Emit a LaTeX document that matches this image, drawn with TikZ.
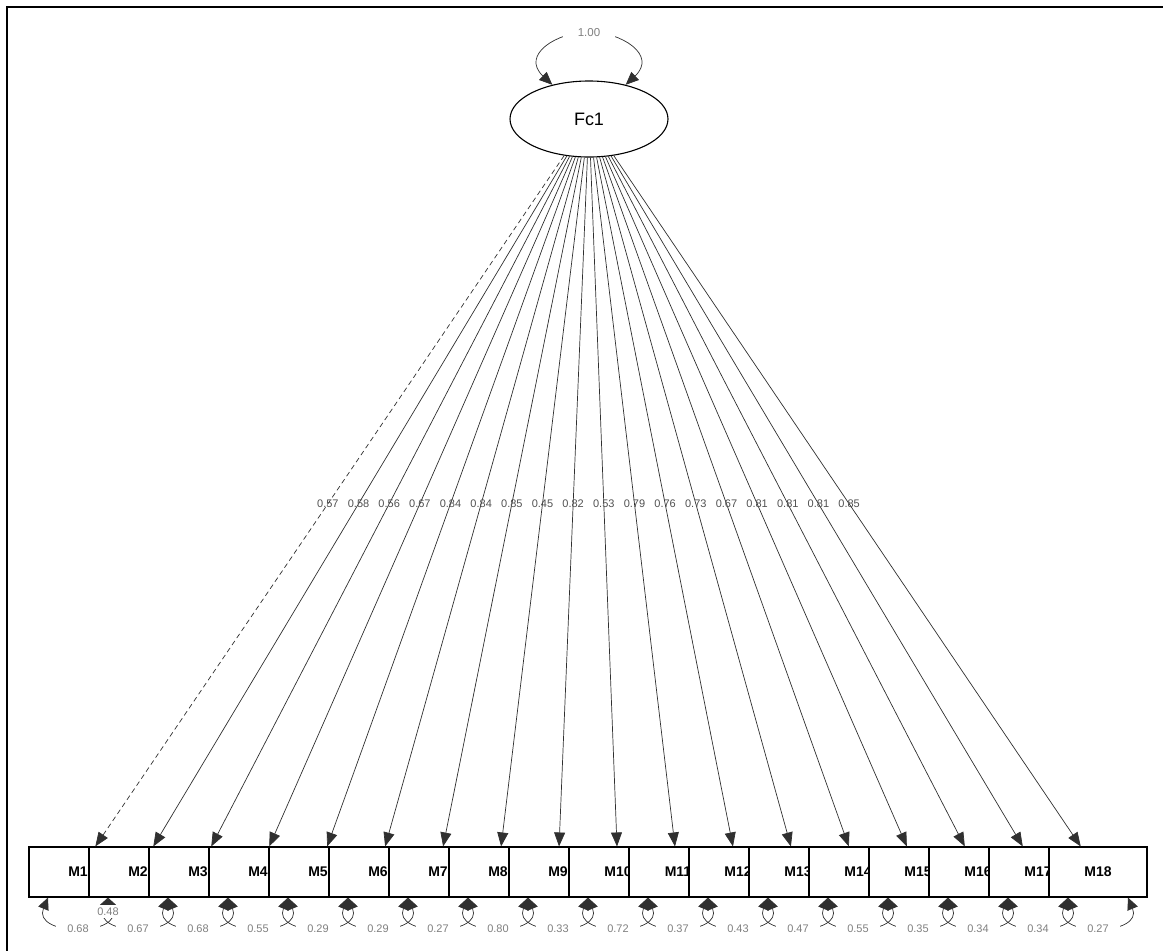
\documentclass[tikz,border=0pt]{standalone}
\usepackage{fontspec}
\setmainfont{Liberation Sans}
\usetikzlibrary{arrows.meta,shapes.geometric,calc}
\definecolor{edgegray}{HTML}{303030}
\definecolor{headgray}{HTML}{383838}
\definecolor{loadtxt}{HTML}{505050}
\definecolor{restxt}{HTML}{808080}
\begin{document}
\begin{tikzpicture}[x=1pt,y=-1pt,
  latent/.style={ellipse,draw,line width=1.1pt,minimum width=158pt,minimum height=76pt,
    inner sep=0pt,font=\fontsize{18}{18}\selectfont},
  manifest/.style={rectangle,draw,fill=white,line width=1.1pt,minimum width=98pt,
    minimum height=50pt,inner sep=0pt,font=\bfseries\fontsize{14}{14}\selectfont},
  loading/.style={draw=edgegray,line width=0.7pt,-{Triangle[length=14pt,width=11pt]}},
  solidload/.style={},
  dashedload/.style={dash pattern=on 5pt off 3.5pt},
  loadlabel/.style={inner sep=0pt,text=loadtxt,font=\fontsize{11}{11}\selectfont},
  resloop/.style={draw=edgegray,line width=0.7pt,
    {Triangle[length=12pt,width=11pt]}-{Triangle[length=12pt,width=11pt]}},
  reslabel/.style={fill=white,inner sep=0pt,minimum width=44pt,minimum height=14pt,
    text=restxt,font=\fontsize{11}{11}\selectfont},
  varloop/.style={draw=edgegray,line width=0.7pt,
    {Triangle[length=13pt,width=11pt]}-{Triangle[length=13pt,width=11pt]}},
  varlabel/.style={fill=white,inner sep=0pt,minimum width=52pt,minimum height=12pt,
    text=restxt,font=\fontsize{11.5}{11.5}\selectfont},
]
\useasboundingbox (0,0) rectangle (1163,951);

% outer frame (left and top edges)
\draw[line width=2.2pt] (7,951) -- (7,7) -- (1163,7);

% latent factor
\node[latent] (Fc1) at (589,119) {Fc1};

% variance of the factor
\draw[varloop] (Fc1.137) .. controls +(-32,-30) and +(-32,0) .. (589,32)
  .. controls +(32,0) and +(32,-30) .. (Fc1.43);
\node[varlabel] (v1) at (589,33) {1.00};

% indicators: each box drawn over the previous one
\foreach \k in {1,...,18}
  \node[manifest] (M\k) at ({78+60*(\k-1)},872) {M\k};

% factor loadings
\foreach \k/\lv/\st in {1/0.57/dashedload,2/0.58/solidload,3/0.56/solidload,
    4/0.67/solidload,5/0.84/solidload,6/0.84/solidload,7/0.85/solidload,
    8/0.45/solidload,9/0.82/solidload,10/0.53/solidload,11/0.79/solidload,
    12/0.76/solidload,13/0.73/solidload,14/0.67/solidload,15/0.81/solidload,
    16/0.81/solidload,17/0.81/solidload,18/0.85/solidload}{
  \draw[loading,\st] (Fc1) -- (M\k);
  \node[loadlabel] (l\k) at ($(Fc1.center)!0.511!(M\k.center)$) {\lv};
}

% residual variances
\foreach \k in {1,...,18}{
  \draw[resloop] ($(M\k.south)+(-30,0)$) .. controls +(-10,24) and +(-22,0) ..
    ($(M\k.south)+(0,32)$) .. controls +(22,0) and +(10,24) .. ($(M\k.south)+(30,0)$);
}
\foreach \k/\rv in {1/0.68,2/0.67,3/0.68,4/0.55,5/0.29,6/0.29,7/0.27,8/0.80,
    9/0.33,10/0.72,11/0.37,12/0.43,13/0.47,14/0.55,15/0.35,16/0.34,17/0.34,18/0.27}{
  \node[reslabel] (r\k) at ($(M\k.south)+(0,31)$) {\rv};
}

% residual covariance M1 -- M2
\node[fill=white,inner sep=1pt,minimum width=26pt,minimum height=13pt,text=restxt,
  font=\fontsize{11}{11}\selectfont] (c12) at ($(M1.south)!0.5!(M2.south)+(0,14)$) {0.48};
\end{tikzpicture}
\end{document}
